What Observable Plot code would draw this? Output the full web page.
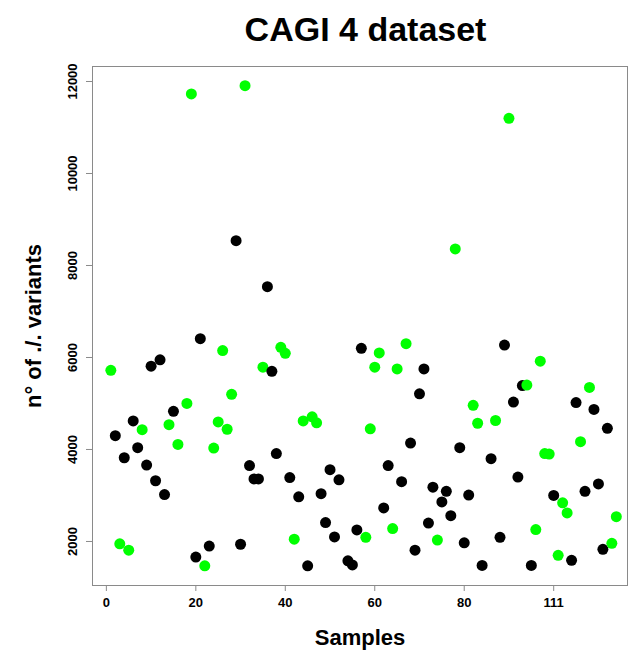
<!DOCTYPE html>
<html><head><meta charset="utf-8">
<script src="https://cdn.jsdelivr.net/npm/d3@7"></script>
<script src="https://cdn.jsdelivr.net/npm/@observablehq/plot@0.6"></script>
<style>
body{margin:0;background:#fff;}
#chart{width:628px;height:653px;}
</style></head><body><div id="chart"></div>
<script>
// Sample index, number of ./. variants, and group (A = black, B = green)
const samples = [1,2,3,4,5,6,7,8,9,10,11,12,13,14,15,16,18,19,20,21,22,23,24,25,26,27,28,29,30,31,32,33,34,35,36,37,38,39,40,41,42,43,44,45,46,47,48,49,50,51,52,54,55,56,57,58,59,60,61,62,63,64,65,66,67,68,69,70,71,72,73,74,75,76,77,78,79,80,81,82,83,84,86,87,88,89,90,91,92,93,94,95,96,97,98,99,100,101,102,103,104,105,106,107,108,109,110,111,112,113,114];
const variants = [5720,4300,1950,3820,1810,4620,4040,4430,3660,5810,3320,5950,3020,4540,4830,4110,5000,11730,1660,6410,1470,1900,4030,4600,6150,4440,5200,8540,1940,11910,3650,3360,3360,5790,7540,5700,3910,6220,6090,3390,2050,2970,4620,1470,4710,4580,3040,2410,3560,2100,3340,1580,1490,2250,6200,2090,4450,5790,6100,2730,3650,2280,5750,3300,6300,4140,1810,5210,5750,2400,3180,2030,2860,3090,2560,8360,4040,1970,3010,4960,4570,1480,3800,4630,2090,6270,11200,5030,3400,5390,5400,1480,2260,5920,3910,3900,3000,1700,2840,2620,1590,5020,4170,3090,5350,4870,3250,1830,4460,1960,2540];
const groups = ["B","A","B","A","B","A","A","B","A","A","A","A","A","B","A","B","B","B","A","A","B","A","B","B","B","B","B","A","A","B","A","A","A","B","A","A","A","B","B","A","B","A","B","A","B","B","A","A","A","A","A","A","A","A","A","B","B","B","B","A","A","B","B","A","B","A","A","A","A","A","A","B","A","A","A","B","A","A","A","B","B","A","A","B","A","A","B","A","A","A","B","A","B","B","B","B","A","B","B","B","A","A","B","A","B","A","A","A","A","B","B"];
const groupNames = ["A","B"];
const xTicks = [0,20,40,60,80,100];
const xTickLabels = ["0","20","40","60","80","111"];
const yTicks = [2000,4000,6000,8000,10000,12000];
const titleText = "CAGI 4 dataset";
const xLabel = "Samples";
const yLabel = "n° of ./. variants";

const data = samples.map((s,i)=>({sample:s, value:variants[i], group:groups[i]}));
const xLabelMap = new Map(xTicks.map((t,i)=>[t, xTickLabels[i]]));
const font = "Liberation Sans, Arial, Helvetica, sans-serif";

const plot = Plot.plot({
  width:628, height:653,
  marginLeft:92, marginRight:1, marginTop:66, marginBottom:68,
  style:{fontFamily:font, background:"white", color:"black"},
  x:{domain:[-3.1,116.5]},
  y:{domain:[1043,12326]},
  color:{domain:groupNames, range:["#000000","#00ff00"]},
  marks:[
    Plot.axisX({ticks:xTicks, tickFormat:d=>xLabelMap.get(d), tickSize:6, tickPadding:6, fontSize:13, fontWeight:"bold", label:null, stroke:"#8a8a8a", fill:"black"}),
    Plot.axisY({ticks:yTicks, tickFormat:()=>"", tickSize:6, label:null, stroke:"#8a8a8a"}),
    Plot.text(yTicks, {y:d=>d, text:d=>String(d), frameAnchor:"left", dx:-20, rotate:-90, fontSize:13, fontWeight:"bold", textAnchor:"middle", lineAnchor:"middle"}),
    Plot.frame({stroke:"#8a8a8a"}),
    Plot.dot(data, {x:"sample", y:"value", fill:"group", r:5.5, stroke:"none"}),
    Plot.text([titleText], {frameAnchor:"top", dx:5.5, dy:-36, fontSize:34, fontWeight:"bold", textAnchor:"middle", lineAnchor:"middle"}),
    Plot.text([xLabel], {frameAnchor:"bottom", dy:52, fontSize:22, fontWeight:"bold", textAnchor:"middle", lineAnchor:"middle"}),
    Plot.text([yLabel], {frameAnchor:"left", dx:-59, rotate:-90, fontSize:22, fontWeight:"bold", textAnchor:"middle", lineAnchor:"middle"})
  ]
});
document.getElementById("chart").appendChild(plot);
</script></body></html>
